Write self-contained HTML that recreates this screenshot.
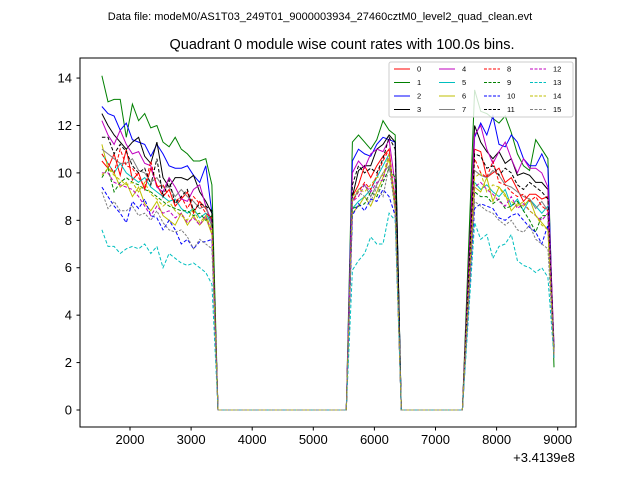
<!DOCTYPE html>
<html><head><meta charset="utf-8"><style>
body{margin:0;background:#fff}
svg text{font-family:"Liberation Sans","DejaVu Sans",sans-serif;fill:#000}
</style></head><body>
<svg id="chart" width="640" height="480" xmlns="http://www.w3.org/2000/svg">
<rect width="640" height="480" fill="#fff"/>
<text x="320" y="20" font-size="11" text-anchor="middle">Data file: modeM0/AS1T03_249T01_9000003934_27460cztM0_level2_quad_clean.evt</text>
<text x="342" y="49" font-size="14.5" text-anchor="middle">Quadrant 0 module wise count rates with 100.0s bins.</text>
<g id="plot"></g>
<rect x="80" y="58" width="496" height="369" fill="none" stroke="#000" stroke-width="1"/>
<g id="axes"></g>
<text x="575" y="462" font-size="13" text-anchor="end">+3.4139e8</text>
<g id="legend"></g>
</svg>
<script>
const seg1Times=[1540,1640,1740,1840,1940,2040,2140,2240,2340,2440,2540,2640,2740,2840,2940,3040,3140,3240,3340];
const gap1Times=[3440,5540];
const seg2Times=[5640,5740,5840,5940,6040,6140,6240,6340];
const gap2Times=[6440,7440];
const seg3Times=[7640,7740,7840,7940,8040,8140,8240,8340,8440,8540,8640,8740,8840,8940];
const xTicks=[2000,3000,4000,5000,6000,7000,8000,9000];
const yTicks=[0,2,4,6,8,10,12,14];
const seriesNames=["0","1","2","3","4","5","6","7","8","9","10","11","12","13","14","15"];
const colors=["#ff0000","#008000","#0000ff","#000000","#bf00bf","#00bfbf","#bfbf00","#808080","#ff0000","#008000","#0000ff","#000000","#bf00bf","#00bfbf","#bfbf00","#808080"];
const seg1=[
[10.5,10.2,10.8,9.9,11.0,9.7,10.0,9.3,10.2,9.5,9.0,9.3,8.6,8.9,9.2,8.3,8.8,8.5,8.0],
[14.1,13.0,13.1,13.1,11.5,12.9,12.2,12.5,11.9,12.0,11.3,11.1,11.5,11.0,10.8,10.5,10.5,10.6,9.5],
[12.8,12.5,12.4,11.8,12.1,11.4,11.3,11.2,10.7,11.2,10.8,10.3,10.2,10.2,10.3,9.9,9.6,10.3,8.3],
[12.5,12.0,11.6,11.3,11.0,11.3,11.5,10.7,10.4,11.3,9.8,9.4,9.8,9.8,9.7,9.9,9.2,8.8,8.3],
[12.2,11.6,11.2,11.8,11.2,10.8,10.9,10.4,10.3,9.4,9.2,9.8,9.4,8.9,8.8,9.3,9.5,8.6,7.9],
[10.8,10.4,10.0,10.4,10.0,9.8,9.6,9.8,9.4,9.2,9.0,8.8,8.9,8.5,8.3,8.5,8.1,8.3,7.8],
[11.2,10.2,10.0,9.4,9.6,9.0,9.4,8.7,8.4,8.8,8.2,8.0,7.8,8.3,7.8,8.2,7.8,8.1,7.4],
[11.0,10.8,10.6,10.4,10.4,10.6,10.1,10.0,9.6,9.8,9.4,9.4,9.0,9.3,9.0,8.8,8.5,8.6,7.7],
[10.8,10.4,10.0,11.0,10.3,10.2,9.8,9.4,10.5,9.4,9.5,9.0,8.8,9.0,8.5,9.0,8.7,8.3,8.1],
[9.8,10.2,9.2,9.6,9.8,9.6,9.5,9.3,9.2,9.0,8.8,8.6,8.5,8.4,8.4,8.2,8.3,8.0,8.2],
[9.4,9.0,8.6,8.3,7.9,8.8,8.5,8.9,8.2,8.1,7.6,8.0,7.6,7.0,7.2,6.8,7.1,7.1,7.2],
[11.5,11.5,10.8,11.2,10.9,10.3,10.0,10.2,9.5,10.6,9.0,9.7,8.7,9.0,9.3,8.4,8.7,8.6,8.4],
[10.0,10.0,9.6,9.5,9.4,9.3,9.0,8.6,8.2,8.6,8.3,8.4,8.1,8.3,7.9,8.1,7.8,8.2,7.5],
[7.6,6.9,6.9,6.6,6.8,6.9,6.8,7.0,6.6,6.9,6.0,6.6,6.4,6.2,6.1,6.2,6.0,5.8,5.3],
[9.9,10.2,9.9,9.7,9.5,9.6,9.2,9.6,9.1,8.9,8.6,8.8,8.4,8.2,8.0,8.5,7.9,8.2,7.6],
[9.2,8.5,8.8,8.4,8.4,8.6,8.2,8.3,8.0,8.4,7.9,7.6,7.5,7.6,7.3,6.8,7.2,7.0,6.8]];
const gapValues=[0,0];
const seg2=[
[9.0,9.5,10.3,9.8,10.3,10.7,11.0,8.5],
[11.3,11.6,11.3,11.0,11.4,12.2,11.8,11.6],
[10.5,11.0,10.8,10.7,11.2,11.5,11.4,11.3],
[9.0,10.1,10.3,10.3,11.0,11.2,11.6,11.3],
[10.0,10.5,10.2,10.8,11.0,10.9,11.4,9.5],
[8.5,8.8,9.0,9.3,9.8,10.3,10.8,8.8],
[8.3,8.6,9.0,8.6,9.2,9.8,10.6,8.4],
[8.8,9.3,9.5,9.0,9.5,10.0,10.3,9.0],
[8.8,9.2,9.6,9.3,9.9,10.5,11.0,8.7],
[8.5,8.6,8.7,9.2,9.0,9.6,10.2,9.8],
[8.2,8.7,8.4,8.9,8.8,9.3,9.0,8.2],
[9.5,10.3,10.0,10.2,10.0,10.6,11.5,11.0],
[8.8,9.0,9.5,9.2,9.6,9.7,10.8,8.6],
[5.9,6.3,6.6,7.3,7.0,7.0,8.3,8.0],
[9.0,9.3,9.2,9.5,9.8,9.9,10.8,8.5],
[8.9,9.2,9.0,8.8,9.4,9.0,10.3,8.4]];
const seg3=[
[11.0,10.9,9.8,10.0,10.2,9.6,9.8,9.3,8.8,9.1,9.1,8.9,9.0,2.4],
[13.5,12.6,12.5,12.3,12.1,12.4,11.7,10.8,10.3,10.1,11.4,11.0,10.6,1.8],
[11.5,12.1,11.6,12.4,11.2,11.1,11.6,11.3,10.6,10.3,10.3,10.8,10.2,2.2],
[12.0,11.3,10.9,10.6,10.9,10.4,10.6,9.9,10.0,9.9,9.6,9.6,9.3,2.6],
[11.6,12.0,11.0,10.4,10.9,11.3,10.6,10.0,10.6,10.2,10.2,10.0,9.4,2.8],
[9.6,9.3,9.5,9.2,9.0,9.3,8.6,8.9,8.4,8.9,8.6,8.3,8.6,2.5],
[9.4,9.2,9.8,8.8,9.4,9.1,8.4,8.7,8.6,8.9,8.2,7.9,7.6,2.3],
[10.1,9.9,9.8,10.1,9.9,9.5,9.4,9.2,9.0,8.9,8.5,8.8,8.4,2.2],
[10.6,10.0,9.8,10.5,9.6,9.5,9.2,9.0,9.1,8.8,9.0,8.6,8.4,2.4],
[9.2,9.0,9.0,8.7,8.9,8.5,8.6,8.8,8.4,8.0,7.5,8.2,8.2,2.3],
[8.5,8.7,8.6,8.5,8.1,8.0,8.2,8.3,8.0,7.7,7.5,7.0,7.8,2.4],
[10.8,10.7,10.2,10.3,9.9,10.2,10.0,9.5,9.3,9.6,9.4,9.2,8.9,2.5],
[9.4,9.6,9.3,9.1,8.8,8.6,9.0,8.5,8.7,8.4,8.2,8.0,8.3,2.3],
[7.9,7.2,7.4,6.4,6.9,7.0,7.4,6.3,6.1,6.0,5.8,6.0,5.6,2.2],
[9.8,10.0,9.2,9.5,9.4,9.0,8.8,8.6,8.8,8.4,8.2,7.8,7.6,2.3],
[8.8,8.6,8.4,8.3,8.0,7.8,8.0,7.6,7.5,7.8,7.2,7.0,6.8,2.3]];

const NS="http://www.w3.org/2000/svg";
function xs(v){return 130+(v-2000)*0.0611;}
function ys(v){return 410-v*23.71;}
function mk(t,a,p){const e=document.createElementNS(NS,t);for(const k in a)e.setAttribute(k,a[k]);p.appendChild(e);return e;}
const times=[].concat(seg1Times,gap1Times,seg2Times,gap2Times,seg3Times);
const plot=document.getElementById('plot');
for(let s=0;s<16;s++){
  const vals=[].concat(seg1[s],gapValues,seg2[s],gapValues,seg3[s]);
  const d=times.map((t,i)=>(i?'L':'M')+xs(t).toFixed(1)+','+ys(vals[i]).toFixed(1)).join(' ');
  const p=mk('path',{d:d,fill:'none',stroke:colors[s],'stroke-width':1,'stroke-dasharray':s>=8?(s==15?'2.5,1.5':'3.5,2'):'none'},plot);
  
  
}
const axes=document.getElementById('axes');
xTicks.forEach(t=>{
  const x=xs(t);
  const l=mk('line',{x1:x,x2:x,y1:427,y2:430.5,stroke:'#000'},axes);
  
  
  const tx=mk('text',{x:x,y:444,'font-size':13,'text-anchor':'middle'},axes);tx.textContent=t;
  
  
});
yTicks.forEach(t=>{
  const y=ys(t);
  const l=mk('line',{x1:76.5,x2:80,y1:y,y2:y,stroke:'#000'},axes);
  
  
  const tx=mk('text',{x:72,y:y+4.5,'font-size':13,'text-anchor':'end'},axes);tx.textContent=t;
  
  
});
const lg=document.getElementById('legend');
const box=mk('rect',{x:389,y:62,width:184,height:55,rx:2,fill:'#fff','fill-opacity':0.8,stroke:'#ccc'},lg);


const colX=[394,439,484,530];
for(let s=0;s<16;s++){
  const c=Math.floor(s/4),r=s%4;
  const x=colX[c],y=69+r*13.5;
  const ln=mk('line',{x1:x,x2:x+16,y1:y,y2:y,stroke:colors[s],'stroke-width':1,'stroke-dasharray':s>=8?'3,1.5':'none'},lg);
  
  
  const tx=mk('text',{x:x+23,y:y+2.5,'font-size':7.5},lg);tx.textContent=seriesNames[s];
  
  
}
</script>
</body></html>
